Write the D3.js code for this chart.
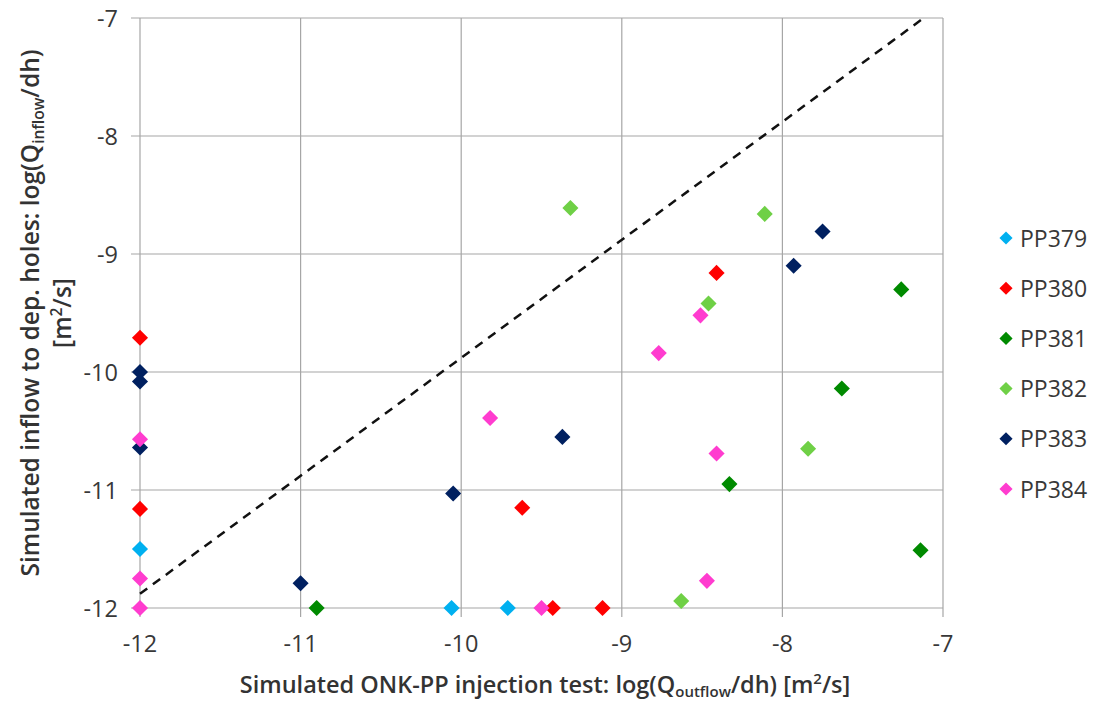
<!DOCTYPE html>
<html>
<head>
<meta charset="utf-8">
<script src="https://cdn.jsdelivr.net/npm/d3@7"></script>
<style>
  body { margin: 0; background: #fff; }
  svg { font-family: "Open Sans", "Noto Sans", sans-serif; }
</style>
</head>
<body>
<svg id="chart" width="1093" height="704"></svg>
<script>
// series values: [log Q_outflow, log Q_inflow]
const pp379 = [[-12, -11.5], [-10.06, -12], [-9.71, -12]];
const pp380 = [[-12, -9.71], [-12, -11.16], [-9.62, -11.15], [-8.41, -9.16], [-9.43, -12], [-9.12, -12]];
const pp381 = [[-10.90, -12], [-7.26, -9.30], [-7.63, -10.14], [-8.33, -10.95], [-7.14, -11.51]];
const pp382 = [[-9.32, -8.61], [-8.11, -8.66], [-8.46, -9.42], [-7.84, -10.65], [-8.63, -11.94]];
const pp383 = [[-12, -10.0], [-12, -10.08], [-12, -10.64], [-11.0, -11.79], [-10.05, -11.03], [-9.37, -10.55], [-7.93, -9.10], [-7.75, -8.81]];
const pp384 = [[-12, -10.57], [-12, -11.75], [-12, -12], [-9.82, -10.39], [-8.77, -9.84], [-8.51, -9.52], [-8.41, -10.69], [-8.47, -11.77], [-9.50, -12]];

const seriesNames = ["PP379", "PP380", "PP381", "PP382", "PP383", "PP384"];
const seriesColors = ["#00b0f0", "#ff0000", "#008a00", "#6fd046", "#002060", "#ff3ccf"];
const seriesData = [pp379, pp380, pp381, pp382, pp383, pp384];

const xTicks = [-12, -11, -10, -9, -8, -7];
const yTicks = [-12, -11, -10, -9, -8, -7];

// dashed reference line end points
const refLine = [[-12, -11.88], [-7.12, -7]];

let svg = d3.select("#chart");
let plotLeft = 140, plotTop = 18, plotWidth = 803, plotHeight = 590;

let x = d3.scaleLinear().domain([-12, -7]).range([plotLeft, plotLeft + plotWidth]);
let y = d3.scaleLinear().domain([-12, -7]).range([plotTop + plotHeight, plotTop]);

// gridlines
svg.append("g").selectAll("line").data(xTicks).enter().append("line")
    .attr("x1", d => x(d)).attr("x2", d => x(d))
    .attr("y1", plotTop).attr("y2", plotTop + plotHeight + 9)
    .style("stroke", "#a6a6a6").style("stroke-width", 1.2);

svg.append("g").selectAll("line").data(yTicks).enter().append("line")
    .attr("x1", plotLeft - 9).attr("x2", plotLeft + plotWidth)
    .attr("y1", d => y(d)).attr("y2", d => y(d))
    .style("stroke", "#a6a6a6").style("stroke-width", 1.2);

// tick labels
svg.append("g").selectAll("text").data(xTicks).enter().append("text")
    .attr("x", d => x(d)).attr("y", plotTop + plotHeight + 44)
    .attr("text-anchor", "middle")
    .style("font-size", "23.5px").style("fill", "#383838")
    .text(d => d);

svg.append("g").selectAll("text").data(yTicks).enter().append("text")
    .attr("x", plotLeft - 22).attr("y", d => y(d) + 8.5)
    .attr("text-anchor", "end")
    .style("font-size", "23.5px").style("fill", "#383838")
    .text(d => d);

// dashed line
svg.append("line")
    .attr("x1", x(refLine[0][0])).attr("y1", y(refLine[0][1]))
    .attr("x2", x(refLine[1][0])).attr("y2", y(refLine[1][1]))
    .style("stroke", "#111").style("stroke-width", 2.5)
    .style("stroke-dasharray", "9,7");

// markers
let diamond = d3.symbol().type(d3.symbolDiamond2).size(165);
seriesData.forEach(function(data, i) {
    svg.append("g").selectAll("path").data(data).enter().append("path")
        .attr("d", diamond)
        .attr("transform", d => "translate(" + x(d[0]) + "," + y(d[1]) + ")")
        .style("fill", seriesColors[i]);
});

// legend
let legend = svg.append("g").selectAll("g").data(seriesNames).enter().append("g")
    .attr("transform", (d, i) => "translate(1006," + (238 + i * 50.2) + ")");
legend.append("path")
    .attr("d", d3.symbol().type(d3.symbolDiamond2).size(110))
    .style("fill", (d, i) => seriesColors[i]);
legend.append("text")
    .attr("x", 14).attr("y", 8.5)
    .style("font-size", "23px").style("fill", "#383838")
    .text(d => d);

// axis titles
let xt = svg.append("text")
    .attr("x", 545).attr("y", 693)
    .attr("text-anchor", "middle")
    .style("font-size", "23.5px").style("font-weight", "600").style("fill", "#333");
xt.append("tspan").text("Simulated ONK-PP injection test: log(Q");
xt.append("tspan").text("outflow").style("font-size", "15px").attr("dy", 4);
xt.append("tspan").text("/dh) [m").attr("dy", -4);
xt.append("tspan").text("2").style("font-size", "15px").attr("dy", -9);
xt.append("tspan").text("/s]").attr("dy", 9);

let yt = svg.append("g").attr("transform", "translate(39,313) rotate(-90)");
let yt1 = yt.append("text").attr("text-anchor", "middle")
    .style("font-size", "24.5px").style("font-weight", "600").style("fill", "#333");
yt1.append("tspan").text("Simulated inflow to dep. holes: log(Q");
yt1.append("tspan").text("inflow").style("font-size", "15.5px").attr("dy", 5);
yt1.append("tspan").text("/dh)").attr("dy", -5);
let yt2 = yt.append("text").attr("text-anchor", "middle").attr("y", 32)
    .style("font-size", "24.5px").style("font-weight", "600").style("fill", "#333");
yt2.append("tspan").text("[m");
yt2.append("tspan").text("2").style("font-size", "15.5px").attr("dy", -9);
yt2.append("tspan").text("/s]").attr("dy", 9);
</script>
</body>
</html>
